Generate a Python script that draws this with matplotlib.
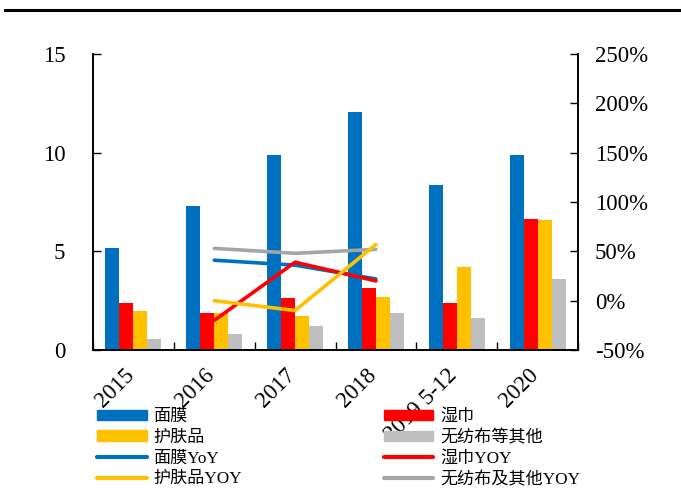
import matplotlib
matplotlib.use("Agg")
import matplotlib.pyplot as plt
from matplotlib.lines import Line2D
from matplotlib.patches import Patch
import numpy as np

plt.rcParams['font.family'] = ['Liberation Serif', 'Noto Sans CJK SC']

categories = ['2015', '2016', '2017', '2018', '2019 5-12', '2020']
mask = [5.17, 7.30, 9.88, 12.06, 8.36, 9.88]
wipes = [2.38, 1.89, 2.62, 3.14, 2.37, 6.62]
skincare = [1.98, 1.90, 1.72, 2.70, 4.21, 6.59]
nonwoven = [0.56, 0.83, 1.23, 1.88, 1.60, 3.58]

yoy_years = ['2016', '2017', '2018']
mask_yoy = [41, 36, 22]
wipes_yoy = [-20, 39, 20]
skincare_yoy = [0, -10, 57]
nonwoven_yoy = [53, 48, 52]

c_blue = '#0070C0'
c_red = '#FF0000'
c_yellow = '#FFC000'
c_gray = '#BFBFBF'
c_gray_line = '#A5A5A5'

fig = plt.figure(figsize=(6.81, 5.01), dpi=100)
ax = fig.add_axes([93 / 681, 1 - 350 / 501, 485 / 681, 296 / 501])
ax2 = ax.twinx()

x = np.arange(len(categories))
w = 0.173
series = [(mask, c_blue, '面膜'), (wipes, c_red, '湿巾'),
          (skincare, c_yellow, '护肤品'), (nonwoven, c_gray, '无纺布等其他')]
for i, (vals, col, lab) in enumerate(series):
    ax.bar(x + (i - 1.5) * w, vals, width=w, color=col, zorder=2)

ax.set_xlim(-0.5, len(categories) - 0.5)
ax.set_ylim(0, 15)
ax.set_yticks([0, 5, 10, 15])
ax.set_xticks(np.arange(len(categories) + 1) - 0.5, minor=False)
ax.set_xticklabels([])
ax.tick_params(axis='x', direction='in', length=6, width=1)
ax.tick_params(axis='y', direction='in', length=6, width=1, labelsize=16.5, pad=20)
for i, lab in enumerate(categories):
    ax.text(i + 0.06, -0.05, lab, transform=ax.get_xaxis_transform(),
            rotation=45, ha='right', va='top', fontsize=16.5, zorder=1)

yx = [categories.index(y) for y in yoy_years]
lw = 2.6
ax2.plot(yx, nonwoven_yoy, color=c_gray_line, lw=lw, solid_capstyle='round', zorder=3)
ax2.plot(yx, mask_yoy, color=c_blue, lw=lw, solid_capstyle='round', zorder=3)
ax2.plot(yx, wipes_yoy, color=c_red, lw=lw, solid_capstyle='round', zorder=3)
ax2.plot(yx, skincare_yoy, color=c_yellow, lw=lw, solid_capstyle='round', zorder=3)
ax2.set_ylim(-50, 250)
ax2.set_yticks(np.arange(-50, 251, 50))
ax2.set_yticklabels([f'{v}%' for v in range(-50, 251, 50)])
ax2.tick_params(axis='y', direction='in', length=6, width=1, labelsize=16.5, pad=12)

for a in (ax, ax2):
    a.spines['top'].set_visible(False)
    for s in ('left', 'right', 'bottom'):
        a.spines[s].set_linewidth(1.2)

handles = [
    Patch(color=c_blue), Patch(color=c_yellow),
    Line2D([], [], color=c_blue, lw=3, solid_capstyle='round'),
    Line2D([], [], color=c_yellow, lw=3, solid_capstyle='round'),
    Patch(color=c_red), Patch(color=c_gray),
    Line2D([], [], color=c_red, lw=3, solid_capstyle='round'),
    Line2D([], [], color=c_gray_line, lw=3, solid_capstyle='round'),
]
labels = ['面膜', '护肤品', '面膜YoY', '护肤品YOY',
          '湿巾', '无纺布等其他', '湿巾YOY', '无纺布及其他YOY']
leg = fig.legend(handles, labels, ncol=2, loc='upper left',
                 bbox_to_anchor=(97 / 681, 1 - 409 / 501), borderpad=0,
                 borderaxespad=0, frameon=False, fontsize=12.3,
                 handlelength=2.9, handleheight=0.6, handletextpad=0.4,
                 labelspacing=0.28, columnspacing=8.3)
leg.set_zorder(5)

fig.add_artist(Line2D([5 / 681, 1], [1 - 9.5 / 501] * 2, color='black', lw=2.2))

fig.savefig('out.png', dpi=100)
